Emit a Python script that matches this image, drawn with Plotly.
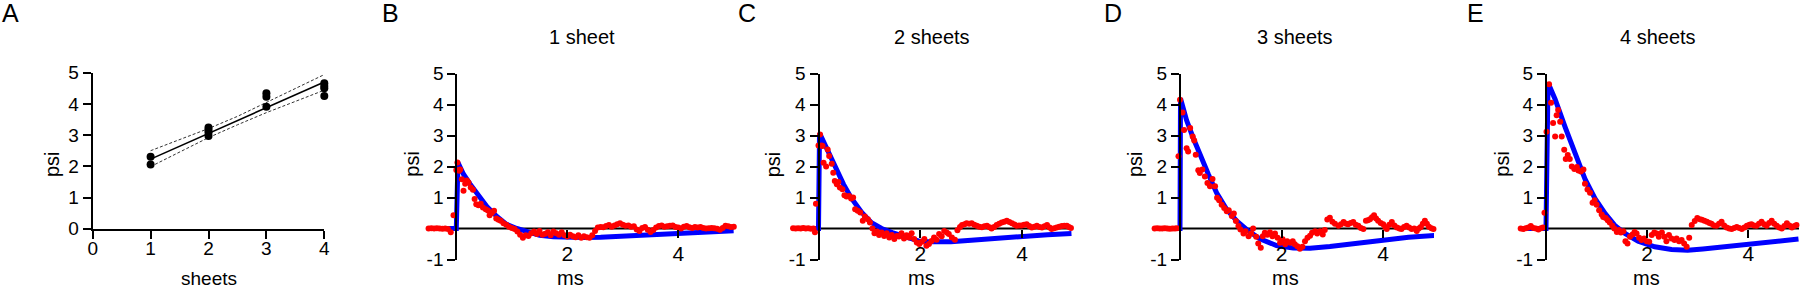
import plotly.graph_objects as go

W, H = 1800, 290
FONT = "Liberation Sans, Arial, sans-serif"

# ---------------- Panel A data ----------------
a_x = [1, 1, 2, 2, 2, 2, 3, 3, 3, 4, 4, 4, 4]
a_y = [2.31, 2.06, 3.24, 3.16, 3.08, 2.97, 4.34, 4.23, 3.91, 4.66, 4.57, 4.50, 4.25]
a_fit_x = [1, 4]
a_fit_y = [2.23, 4.70]
a_ci_x = [1, 2, 2.5, 3, 4]
a_ci_upper = [2.50, 3.21, 3.60, 4.04, 4.94]
a_ci_lower = [1.99, 2.92, 3.33, 3.72, 4.44]

# ---------------- Panel B (1 sheet) ----------------
b_x = [-0.5, -0.45, -0.4, -0.35, -0.3, -0.25, -0.2, -0.15, -0.1, -0.05,
       0.0, 0.02, 0.05, 0.07, 0.1, 0.13, 0.16, 0.19, 0.22, 0.26, 0.3, 0.33, 0.36, 0.4, 0.44, 0.48,
       0.53, 0.57, 0.6, 0.64, 0.68, 0.72, 0.76, 0.8, 0.85, 0.9, 0.95, 1.0, 1.05, 1.1, 1.15, 1.2,
       1.25, 1.3, 1.35, 1.4, 1.45, 1.5, 1.55, 1.6, 1.65, 1.7, 1.75, 1.8, 1.85, 1.9, 1.95, 2.0,
       2.05, 2.1, 2.15, 2.2, 2.25, 2.3, 2.35, 2.4, 2.45, 2.5, 2.55, 2.6, 2.65, 2.7, 2.75, 2.8,
       2.85, 2.9, 2.95, 3.0, 3.05, 3.1, 3.15, 3.2, 3.25, 3.3, 3.35, 3.4, 3.45, 3.5, 3.55, 3.6,
       3.65, 3.7, 3.75, 3.8, 3.85, 3.9, 3.95, 4.0, 4.05, 4.1, 4.15, 4.2, 4.25, 4.3, 4.35, 4.4,
       4.45, 4.5, 4.55, 4.6, 4.65, 4.7, 4.75, 4.8, 4.85, 4.9, 4.95, 5.0]
b_y = [0.0, 0.01, 0.0, 0.01, 0.0, -0.01, 0.0, -0.02, -0.12, 0.43,
       1.89, 2.13, 1.86, 1.9, 1.59, 1.22, 1.44, 1.55, 1.48, 1.32, 1.25, 0.95, 0.78, 0.75, 0.8, 0.68,
       0.62, 0.58, 0.43, 0.5, 0.57, 0.32, 0.28, 0.25, 0.17, 0.12, 0.06, 0.02, -0.02, -0.1, -0.2, -0.3,
       -0.22, -0.24, -0.15, -0.1, -0.18, -0.08, -0.2, -0.17, -0.12, -0.22, -0.1, -0.15, -0.2, -0.12, -0.22, -0.26,
       -0.2, -0.25, -0.28, -0.22, -0.3, -0.25, -0.28, -0.3, -0.22, -0.08, 0.03, 0.05, 0.04, 0.08, 0.11, 0.06,
       0.1, 0.14, 0.17, 0.12, 0.09, 0.1, 0.06, 0.07, -0.03, -0.08, 0.02, 0.05, -0.04, -0.11, -0.05, 0.03,
       0.08, 0.1, 0.06, 0.07, 0.09, 0.1, 0.05, 0.03, 0.0, 0.06, 0.08, 0.04, 0.02, 0.05, 0.03, 0.05,
       0.02, 0.0, 0.01, 0.02, 0.01, -0.01, -0.04, 0.02, 0.09, 0.07, 0.05, 0.06]
b_fit_x = [-0.5, 0.0, 0.03, 0.07, 0.13, 0.25, 0.4, 0.55, 0.73, 0.9, 1.09, 1.3, 1.5, 1.75, 2.0, 2.3,
           2.6, 3.0, 3.5, 4.0, 4.5, 5.0]
b_fit_y = [0.0, 0.0, 2.13, 1.97, 1.75, 1.43, 1.05, 0.71, 0.39, 0.14, 0.0, -0.13, -0.22, -0.27, -0.29, -0.29,
           -0.28, -0.24, -0.2, -0.15, -0.11, -0.07]

# ---------------- Panel C (2 sheets) ----------------
c_x = [-0.5, -0.45, -0.4, -0.35, -0.3, -0.25, -0.2, -0.15, -0.1, -0.07, -0.05,
       0.0, 0.03, 0.06, 0.08, 0.1, 0.15, 0.18, 0.21, 0.26, 0.29, 0.32, 0.36, 0.39, 0.42, 0.47, 0.51,
       0.55, 0.6, 0.64, 0.68, 0.72, 0.77, 0.82, 0.87, 0.91, 0.97, 1.01, 1.06, 1.1, 1.15, 1.19, 1.24,
       1.29, 1.34, 1.39, 1.44, 1.49, 1.54, 1.58, 1.63, 1.68, 1.73, 1.78, 1.83, 1.88, 1.93, 1.98, 2.03,
       2.08, 2.12, 2.17, 2.22, 2.27, 2.32, 2.37, 2.42, 2.47, 2.52, 2.56, 2.62, 2.68, 2.73, 2.78, 2.82,
       2.87, 2.91, 2.96, 3.01, 3.06, 3.11, 3.16, 3.21, 3.26, 3.31, 3.36, 3.4, 3.45, 3.5, 3.55, 3.6,
       3.65, 3.7, 3.75, 3.8, 3.85, 3.89, 3.94, 3.99, 4.04, 4.09, 4.14, 4.19, 4.24, 4.29, 4.34, 4.39,
       4.44, 4.49, 4.54, 4.58, 4.63, 4.68, 4.73, 4.78, 4.83, 4.88, 4.92, 4.96]
c_y = [0.01, 0.0, 0.01, 0.0, 0.02, 0.0, 0.01, -0.01, 0.0, -0.12, 0.8,
       2.68, 3.03, 2.68, 2.66, 2.12, 2.0, 2.55, 2.34, 2.09, 1.8, 1.53, 1.43, 1.5, 1.32, 1.27, 1.07,
       1.03, 1.05, 0.97, 1.0, 0.62, 0.57, 0.52, 0.25, 0.39, 0.3, 0.19, 0.0, -0.15, -0.1, -0.21, -0.13,
       -0.24, -0.15, -0.29, -0.21, -0.34, -0.24, -0.26, -0.15, -0.32, -0.22, -0.29, -0.15, -0.34, -0.45, -0.5, -0.43,
       -0.34, -0.56, -0.5, -0.4, -0.29, -0.36, -0.18, -0.25, -0.08, -0.13, -0.18, -0.29, -0.36, -0.06, 0.05, 0.11,
       0.14, 0.17, 0.15, 0.17, 0.12, 0.09, 0.06, 0.04, 0.07, 0.09, 0.04, 0.0, 0.05, 0.11, 0.15, 0.19,
       0.22, 0.25, 0.21, 0.17, 0.13, 0.09, 0.1, 0.1, 0.12, 0.14, 0.08, 0.03, 0.06, 0.09, 0.05, 0.03,
       0.07, 0.11, 0.03, -0.02, 0.01, 0.03, 0.06, 0.08, 0.09, 0.09, 0.05, 0.02]
c_fit_x = [-0.5, 0.0, 0.02, 0.19, 0.33, 0.49, 0.65, 0.85, 1.04, 1.24, 1.45, 1.63, 1.8, 1.96, 2.15,
           2.35, 2.6, 3.0, 3.5, 4.0, 4.5, 4.97]
c_fit_y = [0.0, 0.0, 3.08, 2.45, 1.96, 1.43, 0.97, 0.52, 0.19, 0.0, -0.13, -0.24, -0.33, -0.4, -0.43,
           -0.44, -0.43, -0.38, -0.31, -0.25, -0.2, -0.16]

# ---------------- Panel D (3 sheets) ----------------
d_x = [-0.5, -0.45, -0.4, -0.35, -0.3, -0.25, -0.2, -0.15, -0.1, -0.06, -0.03,
       0.0, 0.05, 0.08, 0.13, 0.16, 0.2, 0.25, 0.28, 0.31, 0.36, 0.39, 0.44, 0.49, 0.54, 0.59, 0.64,
       0.69, 0.73, 0.77, 0.82, 0.87, 0.92, 0.96, 1.02, 1.06, 1.1, 1.15, 1.19, 1.25, 1.29, 1.35, 1.4,
       1.44, 1.5, 1.54, 1.59, 1.63, 1.67, 1.72, 1.77, 1.82, 1.87, 1.92, 1.97, 2.02, 2.07, 2.11, 2.17,
       2.22, 2.26, 2.31, 2.36, 2.41, 2.46, 2.51, 2.56, 2.6, 2.66, 2.7, 2.76, 2.81, 2.85, 2.9, 2.95,
       3.0, 3.05, 3.12, 3.17, 3.22, 3.27, 3.31, 3.36, 3.41, 3.46, 3.51, 3.56, 3.61, 3.66, 3.7, 3.74,
       3.78, 3.82, 3.86, 3.9, 3.95, 4.0, 4.04, 4.07, 4.12, 4.17, 4.22, 4.27, 4.32, 4.36, 4.41, 4.46,
       4.51, 4.56, 4.61, 4.66, 4.7, 4.74, 4.78, 4.82, 4.86, 4.9, 4.95, 4.99]
d_y = [0.0, 0.01, 0.0, 0.0, 0.01, 0.0, -0.01, 0.0, 0.0, 0.01, 2.33,
       4.15, 3.74, 3.18, 2.59, 2.48, 3.24, 2.97, 2.84, 2.38, 1.88, 1.79, 1.9, 1.68, 1.47, 1.36, 1.6,
       1.36, 0.99, 0.91, 0.77, 0.66, 0.56, 0.59, 0.4, 0.48, 0.24, 0.08, -0.03, -0.16, -0.09, -0.25, -0.16,
       0.0, -0.27, -0.48, -0.62, -0.25, -0.14, -0.2, -0.12, -0.25, -0.16, -0.3, -0.46, -0.35, -0.51, -0.41, -0.46,
       -0.41, -0.51, -0.57, -0.65, -0.59, -0.41, -0.3, -0.23, -0.14, -0.09, -0.16, -0.09, -0.19, -0.05, 0.29, 0.35,
       0.22, 0.15, 0.09, 0.14, 0.21, 0.15, 0.14, 0.18, 0.21, 0.12, 0.09, 0.02, -0.02, 0.25, 0.27, 0.3,
       0.36, 0.43, 0.32, 0.25, 0.18, 0.14, 0.05, -0.02, 0.12, 0.21, 0.1, 0.03, 0.0, -0.02, 0.05, 0.09,
       0.03, -0.02, 0.0, -0.08, 0.0, 0.05, 0.15, 0.25, 0.15, 0.06, 0.01, -0.02]
d_fit_x = [-0.5, 0.0, 0.01, 0.13, 0.26, 0.39, 0.56, 0.72, 0.92, 1.12, 1.31, 1.57, 1.9, 2.23, 2.56,
           2.95, 3.5, 4.0, 4.5, 5.04]
d_fit_y = [0.0, 0.0, 4.2, 3.49, 2.92, 2.38, 1.74, 1.15, 0.61, 0.24, -0.03, -0.33, -0.55, -0.63, -0.64,
           -0.58, -0.46, -0.36, -0.28, -0.22]

# ---------------- Panel E (4 sheets) ----------------
e_x = [-0.5, -0.45, -0.4, -0.35, -0.3, -0.25, -0.2, -0.15, -0.1, -0.06, -0.03,
       0.01, 0.06, 0.1, 0.14, 0.18, 0.21, 0.24, 0.28, 0.31, 0.36, 0.39, 0.43, 0.47, 0.51, 0.56, 0.61,
       0.64, 0.69, 0.74, 0.77, 0.82, 0.87, 0.92, 0.96, 1.0, 1.05, 1.1, 1.13, 1.18, 1.22, 1.26, 1.31,
       1.35, 1.4, 1.44, 1.48, 1.53, 1.57, 1.61, 1.66, 1.71, 1.75, 1.79, 1.84, 1.89, 1.94, 1.99, 2.04,
       2.09, 2.14, 2.19, 2.23, 2.29, 2.34, 2.38, 2.43, 2.48, 2.54, 2.58, 2.63, 2.68, 2.73, 2.78, 2.83,
       2.88, 2.94, 2.99, 3.04, 3.08, 3.13, 3.18, 3.23, 3.27, 3.32, 3.37, 3.42, 3.47, 3.52, 3.57, 3.62,
       3.67, 3.72, 3.77, 3.82, 3.87, 3.92, 3.97, 4.02, 4.06, 4.11, 4.16, 4.21, 4.26, 4.31, 4.36, 4.41,
       4.46, 4.51, 4.56, 4.61, 4.66, 4.71, 4.76, 4.81, 4.86, 4.91, 4.95]
e_y = [0.0, -0.02, 0.01, 0.03, 0.08, 0.02, 0.0, -0.03, 0.01, 0.03, 0.51,
       3.12, 4.65, 4.06, 3.4, 2.97, 3.65, 3.82, 3.44, 2.97, 2.54, 2.24, 2.37, 2.24, 2.0, 1.92, 1.98,
       1.87, 1.84, 1.9, 1.44, 1.26, 1.15, 0.83, 0.91, 0.77, 0.59, 0.45, 0.37, 0.34, 0.27, 0.19, 0.09,
       0.0, -0.11, -0.05, -0.13, -0.09, -0.41, -0.48, -0.27, -0.19, -0.11, -0.16, -0.3, -0.37, -0.32, -0.41, -0.43,
       -0.21, -0.13, -0.16, -0.27, -0.13, -0.27, -0.41, -0.21, -0.32, -0.37, -0.32, -0.41, -0.37, -0.48, -0.59, -0.3,
       0.11, 0.24, 0.34, 0.3, 0.28, 0.25, 0.22, 0.18, 0.15, 0.1, 0.09, 0.15, 0.22, 0.1, 0.03, 0.0,
       -0.02, 0.02, 0.05, 0.02, -0.02, 0.03, 0.09, 0.12, 0.14, 0.1, 0.09, 0.15, 0.22, 0.14, 0.09, 0.18,
       0.25, 0.15, 0.09, 0.03, 0.0, 0.08, 0.17, 0.1, 0.03, 0.08, 0.11]
e_fit_x = [-0.5, 0.0, 0.04, 0.18, 0.38, 0.57, 0.77, 0.97, 1.17, 1.36, 1.56, 1.82, 2.15, 2.48, 2.8,
           3.1, 3.5, 4.0, 4.5, 4.99]
e_fit_y = [0.0, 0.0, 4.7, 4.17, 3.26, 2.4, 1.6, 0.96, 0.48, 0.1, -0.16, -0.41, -0.59, -0.68, -0.7,
           -0.66, -0.6, -0.5, -0.42, -0.34]

panel_titles = ["1 sheet", "2 sheets", "3 sheets", "4 sheets"]
panel_letters = ["A", "B", "C", "D", "E"]
y_ticks_a = [0, 1, 2, 3, 4, 5]
x_ticks_a = [0, 1, 2, 3, 4]
y_ticks_trace = [-1, 1, 2, 3, 4, 5]
y_ticktext_trace = ["-1", "1", "2", "3", "4", "5"]
x_ticks_trace = [2, 4]

def px(x):
    return x / W

def py(y):
    return 1 - y / H

fig = go.Figure()

# Panel A
fig.add_trace(go.Scatter(x=a_ci_x, y=a_ci_upper, mode="lines",
                         line=dict(color="#333333", width=1, dash="3px,2px"), xaxis="x", yaxis="y"))
fig.add_trace(go.Scatter(x=a_ci_x, y=a_ci_lower, mode="lines",
                         line=dict(color="#333333", width=1, dash="3px,2px"), xaxis="x", yaxis="y"))
fig.add_trace(go.Scatter(x=a_fit_x, y=a_fit_y, mode="lines",
                         line=dict(color="black", width=1.6), xaxis="x", yaxis="y"))
fig.add_trace(go.Scatter(x=a_x, y=a_y, mode="markers", cliponaxis=False,
                         marker=dict(color="black", size=8), xaxis="x", yaxis="y"))

axis_common = dict(showgrid=False, zeroline=False, linecolor="black", linewidth=2,
                   ticks="outside", ticklen=8, tickwidth=2, tickcolor="black", automargin=False,
                   tickfont=dict(family=FONT, size=19, color="black"))

layout = dict(
    template="none",
    width=W, height=H, margin=dict(l=0, r=0, t=0, b=0, pad=0), autosize=False,
    paper_bgcolor="white", plot_bgcolor="white", showlegend=False,
    font=dict(family=FONT, color="black"),
)
layout["xaxis"] = dict(axis_common, domain=[px(92.7), px(324.3)], range=[0, 4],
                       tickvals=x_ticks_a, showline=True, anchor="y", ticklabelstandoff=-7)
layout["yaxis"] = dict(axis_common, domain=[py(228.7), py(72.7)], range=[0, 5],
                       tickvals=y_ticks_a, showline=True, anchor="x")

panels = [
    (b_x, b_y, b_fit_x, b_fit_y, 456.3, 55.5),
    (c_x, c_y, c_fit_x, c_fit_y, 818.5, 50.9),
    (d_x, d_y, d_fit_x, d_fit_y, 1180.0, 50.8),
    (e_x, e_y, e_fit_x, e_fit_y, 1546.0, 50.6),
]
Y_TOP, Y_BOT = 73.5, 259.5
y_zero_px = Y_BOT - (Y_BOT - Y_TOP) / 6.0
shapes = []
for i, (rx, ry, fx, fy, x0px, scale) in enumerate(panels):
    k = i + 2
    xa, ya = f"x{k}", f"y{k}"
    fig.add_trace(go.Scatter(x=fx, y=fy, mode="lines", cliponaxis=False,
                             line=dict(color="#0000ff", width=5), xaxis=xa, yaxis=ya))
    fig.add_trace(go.Scatter(x=rx, y=ry, mode="markers", cliponaxis=False,
                             marker=dict(color="#ff0000", size=6), xaxis=xa, yaxis=ya))
    left = x0px - 0.5 * scale
    right = x0px + 5.0 * scale
    layout[f"xaxis{k}"] = dict(axis_common, domain=[px(left), px(min(right, W))], range=[-0.5, 5],
                               tickvals=x_ticks_trace, showline=False, anchor="free",
                               position=py(y_zero_px), ticklabelstandoff=-2,
                               tickfont=dict(family=FONT, size=21, color="black"))
    layout[f"yaxis{k}"] = dict(axis_common, domain=[py(Y_BOT), py(Y_TOP)], range=[-1, 5],
                               tickvals=y_ticks_trace, ticktext=y_ticktext_trace,
                               showline=True, anchor="free", position=px(x0px))
    shapes.append(dict(type="line", xref=xa, yref=ya, x0=0, x1=5, y0=0, y1=0,
                       line=dict(color="black", width=2), layer="below"))

layout["shapes"] = shapes

ann = []
def text(t, x, y, size, angle=0):
    ann.append(dict(text=t, x=px(x), y=py(y), xref="paper", yref="paper", showarrow=False,
                    xanchor="center", yanchor="middle", textangle=angle,
                    font=dict(family=FONT, size=size, color="black")))

for letter, lx in zip(panel_letters, [10, 390, 747, 1113, 1475]):
    text(letter, lx, 13, 25)
for t, tx in zip(panel_titles, [581.7, 931.7, 1295, 1658.3]):
    text(t, tx, 37, 20)
text("sheets", 209.3, 278, 19)
for tx in [570, 921.7, 1285, 1646.7]:
    text("ms", tx, 278, 20)
for tx in [52, 411.7, 773.3, 1135, 1501.7]:
    text("psi", tx, 164, 20, angle=-90)
layout["annotations"] = ann

fig.update_layout(**layout)
fig.write_html("out.html", config={"displayModeBar": False},
               post_script="document.body.style.margin='0';document.body.style.overflow='hidden';")
